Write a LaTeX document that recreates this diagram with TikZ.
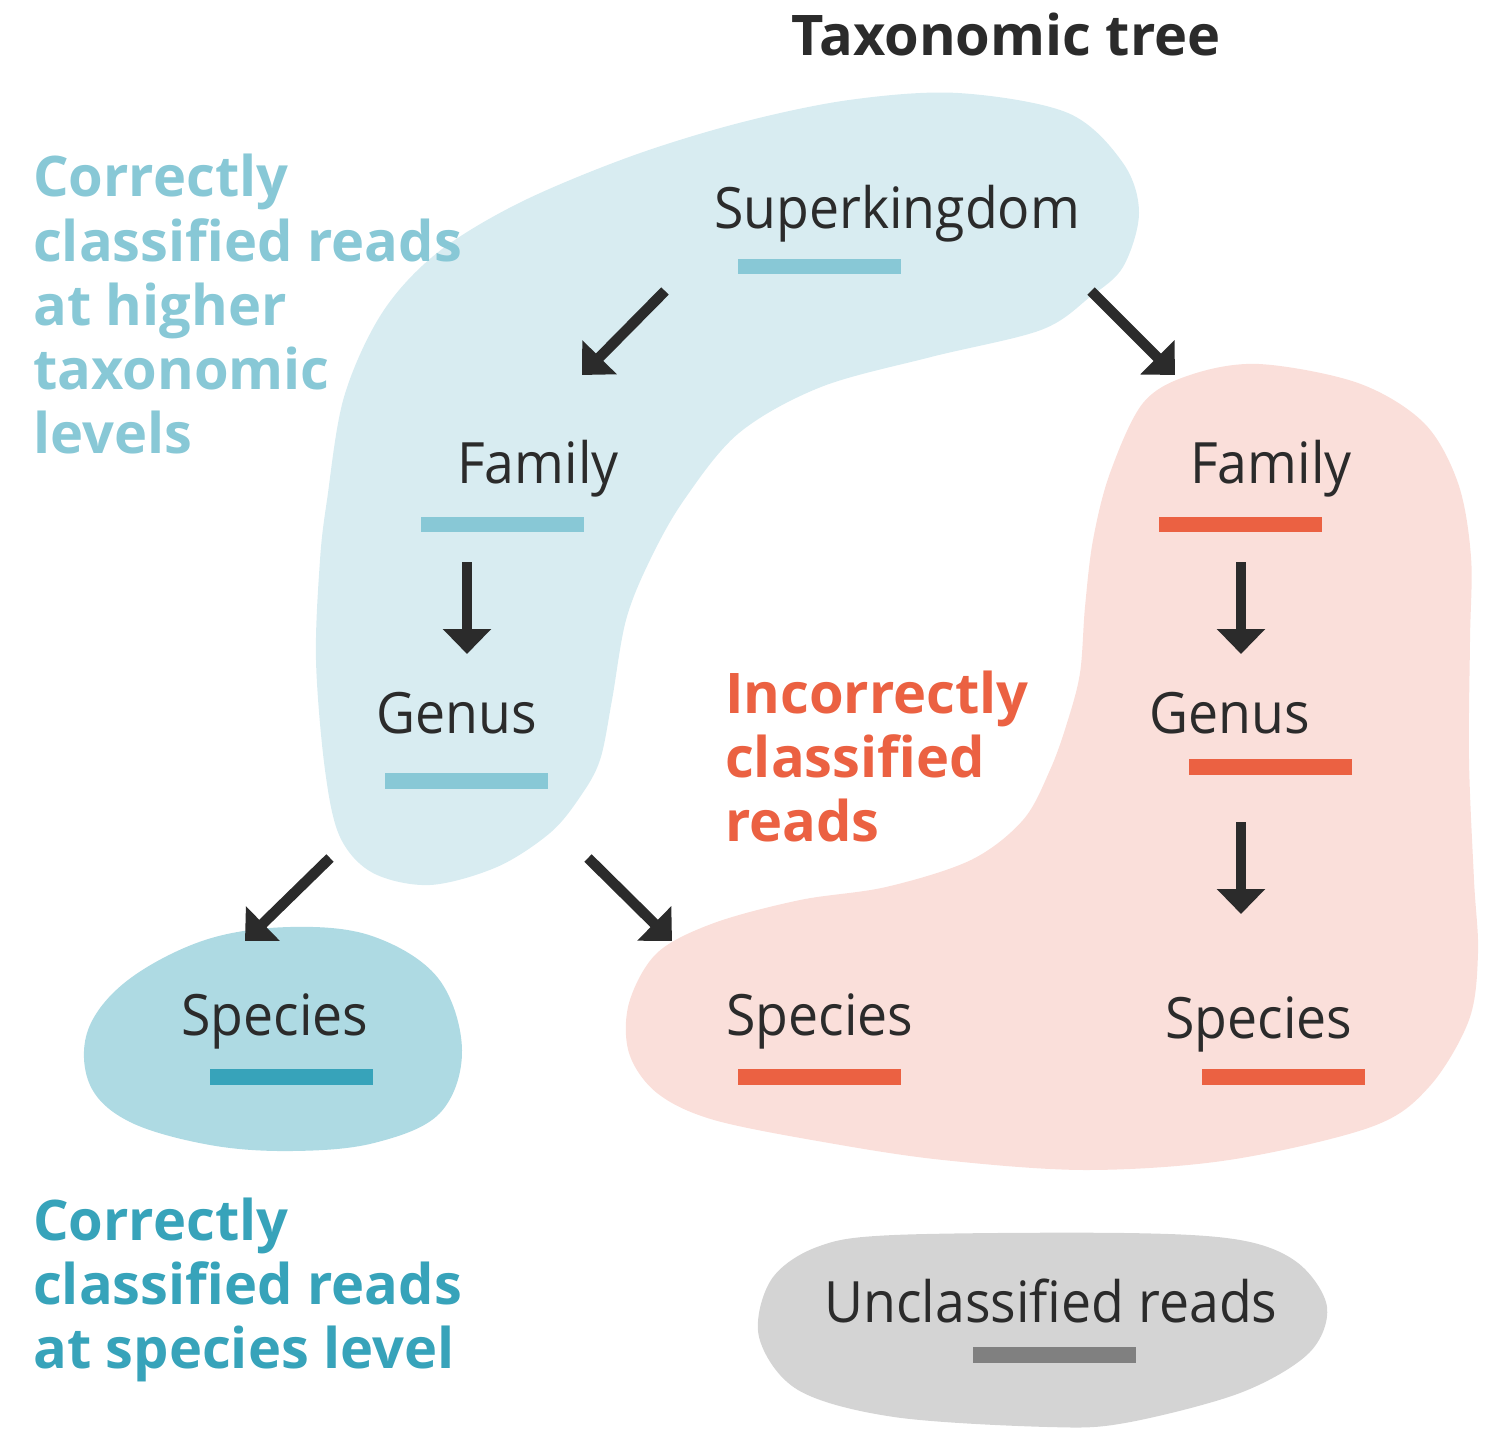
\documentclass[tikz,border=0pt]{standalone}
\usepackage{fontspec}
\setmainfont{Open Sans}
\newfontfamily\labelfont[FakeStretch=0.94]{Open Sans}
\usetikzlibrary{arrows.meta}
\definecolor{dark}{HTML}{2B2B2B}
\definecolor{blueblob}{HTML}{D8ECF1}
\definecolor{bluebar}{HTML}{88C8D6}
\definecolor{spblob}{HTML}{AEDAE3}
\definecolor{spbar}{HTML}{37A3BA}
\definecolor{pinkblob}{HTML}{FADFDA}
\definecolor{redc}{HTML}{EB6142}
\definecolor{grayblob}{HTML}{D4D4D4}
\definecolor{graybar}{HTML}{808080}
\begin{document}
\begin{tikzpicture}[x=1pt,y=-1pt,
  lbl/.style={font=\labelfont\fontsize{57}{64}\selectfont, text=dark, anchor=base, inner sep=0pt},
  heading/.style={font=\bfseries\fontsize{56}{64}\selectfont, anchor=base west, inner sep=0pt},
  bar/.style={rectangle, minimum width=163pt, minimum height=15.5pt, inner sep=0pt, fill=#1},
  arr/.style={draw=dark, line width=10.5pt, -{Triangle[length=25pt,width=47pt]}}
]
\useasboundingbox (0,0) rectangle (1491,1442);

% blobs
\fill[blueblob] plot[smooth cycle, tension=0.55] coordinates {
 (958,93) (1068,113) (1123,163) (1139,213) (1123,267) (1090,297) (1041,330)
 (931,357) (821,387) (739,433) (684,500) (650,560) (626,620) (612,700) (600,760)
 (580,797) (550,833) (497,867) (430,885) (373,873) (340,837) (325,770) (316,660)
 (320,560) (327,500) (344,397) (382,313) (437,253) (519,203) (629,157) (739,123) (849,100)};
\fill[pinkblob] plot[smooth cycle, tension=0.55] coordinates {
 (1259,364) (1358,383) (1424,423) (1458,483) (1471,557) (1470,640) (1469,760)
 (1474,880) (1478,953) (1469,1020) (1429,1087) (1371,1127) (1229,1160) (1086,1170)
 (943,1160) (829,1143) (714,1120) (657,1093) (629,1053) (629,1003) (657,953)
 (714,923) (800,900) (886,887) (971,860) (1023,820) (1050,770) (1067,723) (1080,673)
 (1085,607) (1093,540) (1110,473) (1143,403) (1190,375)};
\fill[spblob] plot[smooth cycle, tension=0.6] coordinates {
 (290,927) (372,936) (438,978) (462,1050) (440,1113) (374,1143) (292,1151)
 (210,1145) (130,1122) (90,1085) (88,1030) (128,980) (205,940)};
\fill[grayblob] plot[smooth cycle, tension=0.55] coordinates {
 (894,1235) (1125,1233) (1240,1240) (1298,1263) (1327,1307) (1309,1353) (1240,1393)
 (1125,1423) (1048,1427) (894,1417) (798,1390) (759,1337) (771,1280) (817,1247)};

% titles and legends
\node[font=\bfseries\fontsize{56}{64}\selectfont, text=dark, anchor=base, inner sep=0pt] (title) at (1006,56) {Taxonomic tree};
\node[heading, text=bluebar] (higher) at (33,197) {\begin{tabular}[t]{@{}l@{}}Correctly\\classified reads\\at higher\\taxonomic\\levels\end{tabular}};
\node[heading, text=spbar] (specieslvl) at (33,1240) {\begin{tabular}[t]{@{}l@{}}Correctly\\classified reads\\at species level\end{tabular}};
\node[heading, text=redc] (incorrect) at (725,713) {\begin{tabular}[t]{@{}l@{}}Incorrectly\\classified\\reads\end{tabular}};

% labels
\node[lbl] (sk) at (897,229) {Superkingdom};
\node[bar=bluebar] (skbar) at (819,266.5) {};
\node[lbl] (lfam) at (538,483) {Family};
\node[bar=bluebar] (lfambar) at (502,524.5) {};
\node[lbl] (lgen) at (457,733) {Genus};
\node[bar=bluebar] (lgenbar) at (466.5,781) {};
\node[lbl] (rfam) at (1271,483) {Family};
\node[bar=redc] (rfambar) at (1240.5,524.5) {};
\node[lbl] (rgen) at (1230,733) {Genus};
\node[bar=redc] (rgenbar) at (1270.5,767) {};
\node[lbl] (spl) at (275,1035) {Species};
\node[bar=spbar] (splbar) at (291,1077) {};
\node[lbl] (spm) at (820,1035) {Species};
\node[bar=redc] (spmbar) at (819,1077) {};
\node[lbl] (spr) at (1259,1038) {Species};
\node[bar=redc] (sprbar) at (1283.5,1077) {};
\node[lbl] (uncl) at (1051,1322) {Unclassified reads};
\node[bar=graybar] (unclbar) at (1054,1355) {};

% arrow ends
\coordinate (a1s) at (665,291);  \coordinate (a1e) at (582,375);
\coordinate (a2s) at (1091,291); \coordinate (a2e) at (1175,375);
\coordinate (a3s) at (330,858);  \coordinate (a3e) at (245,941);
\coordinate (a4s) at (588,858);  \coordinate (a4e) at (672,941);
\coordinate (a5s) at (467,562);  \coordinate (a5e) at (467,654);
\coordinate (a6s) at (1241,562); \coordinate (a6e) at (1241,654);
\coordinate (a7s) at (1241,822); \coordinate (a7e) at (1241,914);

\draw[arr] (a1s) -- (a1e);
\draw[arr] (a2s) -- (a2e);
\draw[arr] (a3s) -- (a3e);
\draw[arr] (a4s) -- (a4e);
\draw[arr] (a5s) -- (a5e);
\draw[arr] (a6s) -- (a6e);
\draw[arr] (a7s) -- (a7e);
\end{tikzpicture}
\end{document}
